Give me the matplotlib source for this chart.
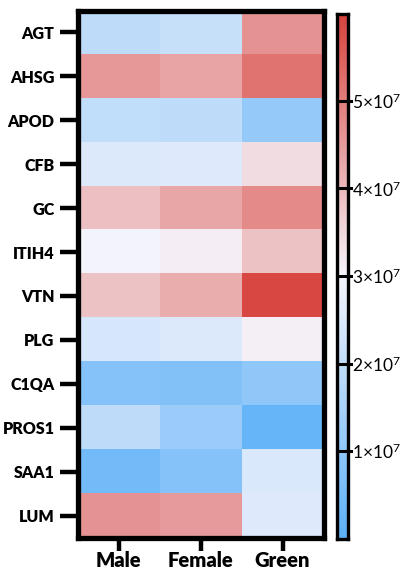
import numpy as np
import matplotlib
matplotlib.use("Agg")
import matplotlib.pyplot as plt
from matplotlib.colors import LinearSegmentedColormap, Normalize
from matplotlib.ticker import FuncFormatter

proteins = ["AGT", "AHSG", "APOD", "CFB", "GC", "ITIH4", "VTN",
            "PLG", "C1QA", "PROS1", "SAA1", "LUM"]
groups = ["Male", "Female", "Green"]

male =   [1.90e7, 4.55e7, 1.95e7, 2.50e7, 3.90e7, 2.95e7, 3.85e7,
          2.40e7, 0.78e7, 1.90e7, 0.46e7, 4.65e7]
female = [2.10e7, 4.35e7, 1.90e7, 2.55e7, 4.33e7, 3.12e7, 4.20e7,
          2.50e7, 0.72e7, 1.22e7, 0.78e7, 4.50e7]
green =  [4.65e7, 5.20e7, 1.08e7, 3.40e7, 4.80e7, 3.85e7, 5.92e7,
          3.10e7, 1.00e7, 0.20e7, 2.45e7, 2.55e7]

cbar_ticks = [1e7, 2e7, 3e7, 4e7, 5e7]
vmin, vmax = 0.0, 6.0e7

plt.rcParams["font.family"] = ["Lato", "DejaVu Sans"]
plt.rcParams["mathtext.fontset"] = "custom"
plt.rcParams["mathtext.rm"] = "Lato"
plt.rcParams["mathtext.it"] = "Lato:italic"
plt.rcParams["mathtext.bf"] = "Lato:bold"

cmap = LinearSegmentedColormap.from_list(
    "bwr_soft", ["#5DB1F8", "#F6F5FC", "#D8433D"])
norm = Normalize(vmin=vmin, vmax=vmax)

data = np.column_stack([male, female, green])

fig = plt.figure(figsize=(4.0, 5.69), dpi=100)
W, H = 400.0, 569.0

# main heatmap axes (pixel box converted to figure fractions)
x0, x1, y0, y1 = 78.0, 323.5, 10.5, 537.5
ax = fig.add_axes([x0 / W, 1 - y1 / H, (x1 - x0) / W, (y1 - y0) / H])
ax.imshow(data, cmap=cmap, norm=norm, aspect="auto",
          interpolation="nearest",
          extent=(-0.5, len(groups) - 0.5, len(proteins) - 0.5, -0.5))
ax.set_xlim(-0.5, len(groups) - 0.5)
ax.set_ylim(len(proteins) - 0.5, -0.5)

for sp in ax.spines.values():
    sp.set_linewidth(3.8)
    sp.set_color("black")

ax.set_yticks(range(len(proteins)))
ax.set_yticklabels(proteins, fontsize=11.5, fontweight="heavy")
ax.set_xticks(range(len(groups)))
ax.set_xticklabels(groups, fontsize=14.5, fontweight="heavy")
ax.tick_params(axis="y", length=13, width=3.2, pad=4)
ax.tick_params(axis="x", length=9, width=3.2, pad=1)

# colorbar
cx0, cx1, cy0, cy1 = 336.5, 347.5, 13.5, 538.5
cax = fig.add_axes([cx0 / W, 1 - cy1 / H, (cx1 - cx0) / W, (cy1 - cy0) / H])
grad = np.linspace(vmin, vmax, 512).reshape(-1, 1)
cax.imshow(grad, cmap=cmap, norm=norm, aspect="auto", origin="lower",
           extent=(0, 1, vmin, vmax))
cax.set_xlim(0, 1)
cax.set_ylim(vmin, vmax)
cax.set_xticks([])
cax.yaxis.tick_right()
cax.set_yticks(cbar_ticks)
cax.tick_params(axis="y", length=0, pad=3, labelsize=12.5)
cax.yaxis.set_major_formatter(
    FuncFormatter(lambda v, p: f"{int(round(v / 1e7))}×10$^{{7}}$"))
for v in cbar_ticks:
    cax.axhline(v, 0, 1.35, color="black", lw=2.2, clip_on=False)
for sp in cax.spines.values():
    sp.set_linewidth(2.4)
    sp.set_color("black")

fig.savefig("out.png", dpi=100)
